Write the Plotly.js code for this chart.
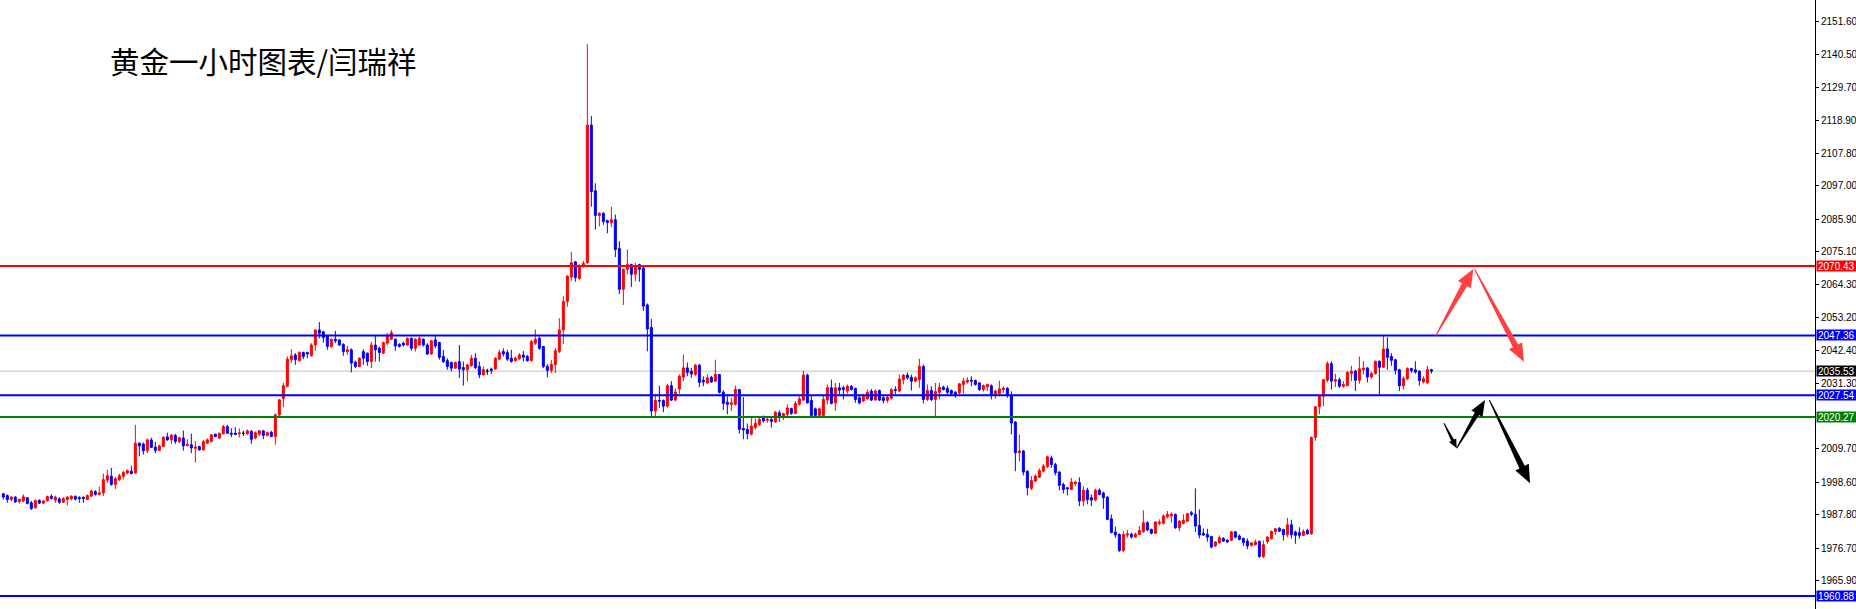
<!DOCTYPE html>
<html>
<head>
<meta charset="utf-8">
<script src="https://cdn.plot.ly/plotly-3.0.1.min.js"></script>
<style>
html,body{margin:0;padding:0;background:#fff;}
#chart{width:1856px;height:609px;}
</style>
</head>
<body>
<div id="chart"></div>
<script>
// ---- candle data (1 hour, XAUUSD) ----
const openP = [
1994.8,1994.2,1992.9,1993.7,1992.2,1992.4,1993.5,1991.8,1990.2,1992.6,
1991.7,1992.5,1994.0,1992.7,1993.1,1992.0,1992.9,1993.1,1993.9,1993.6,
1993.6,1992.9,1994.0,1995.5,1994.6,1995.1,1999.3,2000.6,1997.9,1999.5,
2000.6,2001.7,2002.3,2001.7,2011.6,2011.3,2009.1,2012.7,2010.3,2009.2,
2010.5,2013.7,2012.7,2014.2,2012.1,2013.3,2010.8,2011.1,2009.9,2010.5,
2009.4,2011.6,2012.2,2014.6,2013.3,2014.7,2017.1,2014.9,2014.9,2014.7,
2014.9,2014.7,2015.5,2013.3,2014.6,2015.7,2014.2,2015.2,2013.8,2021.0,
2026.4,2030.5,2039.3,2040.9,2039.0,2041.7,2041.7,2040.6,2044.2,2049.2,
2048.6,2047.2,2043.7,2046.1,2045.9,2044.4,2042.0,2042.6,2038.5,2037.1,
2042.0,2041.5,2038.7,2044.2,2043.1,2041.5,2044.8,2046.1,2046.1,2044.4,
2044.8,2044.2,2046.4,2043.1,2044.2,2046.1,2044.2,2041.2,2045.9,2045.0,
2040.4,2039.0,2038.4,2036.5,2038.7,2036.7,2036.0,2037.3,2039.8,2037.1,
2034.3,2035.5,2036.2,2036.2,2039.5,2042.0,2041.7,2039.8,2039.0,2039.6,
2040.9,2040.4,2039.0,2044.8,2046.4,2043.7,2037.1,2035.8,2037.7,2042.1,
2049.2,2058.6,2066.8,2071.8,2066.3,2070.4,2071.5,2117.2,2095.4,2087.2,
2087.9,2085.5,2084.8,2085.8,2076.2,2062.7,2069.3,2070.9,2067.7,2070.9,
2069.8,2057.5,2050.0,2022.3,2025.8,2025.8,2023.9,2030.7,2025.9,2029.6,
2033.5,2036.6,2035.5,2034.4,2037.5,2032.5,2031.6,2033.5,2032.2,2034.4,
2028.5,2025.2,2024.5,2024.5,2029.4,2016.5,2016.2,2014.6,2016.8,2017.8,
2020.1,2019.2,2019.5,2018.6,2021.7,2020.1,2021.2,2023.1,2021.5,2024.5,
2025.9,2034.2,2025.8,2023.0,2020.8,2020.8,2025.9,2030.0,2025.0,2030.0,
2030.0,2028.9,2030.5,2029.8,2026.7,2025.6,2026.3,2028.9,2025.9,2029.1,
2026.7,2025.8,2026.5,2029.4,2028.9,2032.7,2034.2,2033.5,2032.2,2032.7,
2037.1,2026.1,2029.1,2026.1,2028.5,2030.2,2029.8,2029.1,2028.5,2028.3,
2031.1,2031.9,2032.5,2032.4,2031.6,2029.4,2030.3,2030.7,2027.8,2028.1,
2029.4,2029.8,2027.4,2018.6,2008.4,2009.0,2002.3,1996.6,1999.0,2000.3,
2002.3,2003.8,2006.7,2004.5,2002.0,1997.9,1996.8,1996.2,1998.2,1998.5,
1992.4,1996.0,1993.5,1992.7,1996.0,1995.1,1993.7,1986.5,1982.1,1981.3,
1976.0,1981.1,1981.4,1980.4,1981.3,1982.2,1985.2,1983.0,1981.7,1985.0,
1985.0,1987.2,1987.4,1988.0,1983.5,1985.0,1985.7,1988.5,1988.0,1984.3,
1981.7,1981.3,1980.6,1977.5,1978.6,1980.0,1979.4,1979.4,1982.2,1980.8,
1980.0,1979.1,1977.7,1977.9,1979.0,1974.0,1979.0,1979.9,1982.3,1983.4,
1982.9,1981.2,1984.5,1982.1,1981.9,1981.0,1982.6,1981.5,2013.5,2023.7,
2027.2,2032.5,2038.0,2032.2,2032.7,2030.5,2030.7,2034.7,2035.5,2032.5,
2036.0,2036.6,2033.6,2034.7,2038.8,2036.8,2042.9,2040.4,2039.3,2036.0,
2030.7,2033.0,2036.4,2036.0,2035.5,2031.9,2031.6,2036.0
];
const highP = [
1995.1,1994.6,1994.0,1994.0,1993.3,1994.6,1993.7,1992.4,1992.9,1993.0,
1992.7,1994.2,1994.6,1994.2,1993.7,1993.7,1994.0,1994.3,1994.3,1994.0,
1994.0,1994.6,1996.2,1996.0,1997.1,2001.5,2002.8,2003.4,2000.4,2001.5,
2002.5,2002.8,2004.1,2017.7,2011.9,2011.8,2013.2,2013.4,2012.0,2011.1,
2013.8,2015.1,2014.6,2014.7,2013.8,2015.8,2012.9,2014.8,2012.3,2010.7,
2012.7,2013.2,2014.6,2014.7,2015.1,2017.7,2017.7,2016.6,2016.9,2016.5,
2015.7,2016.2,2016.0,2015.5,2016.0,2016.0,2015.4,2015.7,2021.5,2026.3,
2031.6,2040.4,2042.8,2041.5,2042.0,2042.0,2042.0,2044.8,2049.4,2051.8,
2048.9,2047.5,2046.4,2048.9,2046.1,2044.8,2043.9,2043.1,2039.0,2040.1,
2042.8,2041.7,2045.3,2047.2,2043.7,2045.3,2048.1,2049.2,2046.4,2044.8,
2045.3,2046.7,2046.7,2046.4,2047.0,2046.4,2044.8,2045.9,2047.2,2045.3,
2042.6,2039.8,2038.7,2038.7,2044.2,2038.7,2038.0,2040.9,2041.5,2038.7,
2037.1,2036.3,2036.7,2040.1,2042.6,2043.1,2042.6,2042.6,2040.4,2041.5,
2042.2,2040.9,2045.9,2049.4,2047.0,2043.9,2037.9,2039.3,2043.2,2053.1,
2060.4,2067.4,2075.1,2072.1,2070.9,2072.1,2144.1,2120.2,2097.9,2088.3,
2088.3,2085.8,2090.1,2087.5,2078.7,2069.6,2075.9,2071.2,2071.5,2071.2,
2070.1,2058.0,2052.8,2028.0,2030.7,2026.1,2031.3,2032.2,2029.7,2034.4,
2041.0,2038.4,2036.6,2037.9,2037.9,2033.8,2034.4,2034.0,2039.3,2034.6,
2029.2,2027.2,2026.7,2030.7,2029.6,2026.9,2018.1,2020.1,2019.8,2020.1,
2020.8,2020.1,2020.6,2022.3,2022.5,2021.7,2024.5,2023.4,2025.6,2027.2,
2035.7,2034.7,2027.2,2023.4,2023.4,2027.4,2031.1,2032.7,2031.6,2031.6,
2030.7,2031.1,2030.9,2030.0,2027.2,2028.0,2029.4,2029.6,2029.4,2029.4,
2027.2,2027.4,2029.8,2030.5,2034.4,2034.6,2035.1,2034.4,2033.8,2039.6,
2037.7,2031.1,2030.5,2031.6,2031.6,2030.7,2030.7,2029.4,2028.9,2031.6,
2033.3,2033.5,2033.8,2032.7,2031.9,2031.1,2031.4,2031.1,2029.4,2032.4,
2030.5,2030.2,2028.8,2018.9,2014.5,2009.3,2002.6,2000.7,2001.2,2003.2,
2004.7,2007.5,2007.5,2005.1,2002.3,1998.5,1997.1,2000.1,1999.2,2000.3,
1997.3,1996.8,1994.6,1996.5,1996.6,1995.5,1994.0,1987.9,1983.9,1981.7,
1982.4,1982.8,1981.9,1981.9,1984.1,1989.3,1985.7,1983.2,1985.7,1986.3,
1988.0,1989.1,1988.7,1988.2,1986.1,1988.0,1988.5,1989.1,1996.6,1989.6,
1983.3,1983.2,1980.8,1979.1,1981.0,1980.4,1979.7,1982.4,1982.4,1981.3,
1980.2,1980.0,1978.8,1979.6,1979.3,1979.3,1980.8,1982.6,1983.4,1983.7,
1983.2,1986.8,1986.2,1982.6,1983.7,1983.0,1983.2,2013.8,2023.9,2027.5,
2032.9,2038.8,2038.8,2034.7,2033.3,2032.2,2035.5,2037.3,2036.0,2040.4,
2038.8,2036.8,2035.3,2039.0,2039.1,2047.4,2046.7,2041.5,2039.6,2036.3,
2033.8,2036.8,2036.6,2038.8,2035.8,2033.8,2037.3,2036.3
];
const lowP = [
1992.9,1991.8,1992.4,1991.8,1991.6,1992.0,1991.3,1989.4,1989.9,1991.4,
1991.4,1992.2,1992.9,1991.8,1991.5,1991.8,1990.9,1992.6,1992.6,1991.8,
1991.8,1992.7,1993.8,1994.2,1994.3,1994.0,1998.4,1997.5,1996.4,1999.0,
1999.5,2001.2,2001.3,2001.5,2007.2,2007.8,2008.3,2010.0,2008.3,2009.1,
2010.3,2012.4,2011.3,2011.4,2011.6,2009.1,2010.5,2008.3,2005.2,2009.1,
2009.1,2011.4,2011.8,2013.6,2012.9,2014.5,2014.7,2013.6,2014.3,2013.5,
2014.0,2014.4,2011.4,2012.9,2014.0,2012.9,2013.8,2013.6,2011.1,2020.5,
2023.6,2030.2,2038.2,2037.6,2038.8,2039.5,2039.8,2040.4,2042.3,2046.4,
2045.0,2042.6,2043.1,2044.8,2043.9,2040.6,2040.9,2035.1,2036.5,2036.8,
2037.6,2037.3,2036.5,2038.7,2038.7,2041.2,2044.2,2045.9,2042.3,2043.4,
2043.7,2044.0,2042.3,2042.0,2044.0,2043.7,2040.9,2041.0,2043.1,2039.3,
2038.2,2036.0,2035.4,2036.3,2033.2,2030.7,2032.1,2037.1,2036.2,2033.2,
2034.0,2034.3,2034.6,2036.0,2039.3,2040.4,2038.9,2038.4,2038.7,2039.3,
2038.7,2038.7,2038.7,2044.2,2042.6,2036.5,2033.5,2034.9,2034.9,2041.5,
2044.5,2056.9,2065.5,2065.2,2065.9,2069.9,2071.2,2090.1,2082.5,2083.6,
2084.1,2081.3,2083.3,2073.4,2061.1,2057.5,2067.7,2063.5,2065.4,2065.2,
2055.5,2042.1,2020.1,2020.4,2023.4,2021.9,2023.4,2025.6,2025.6,2028.0,
2032.2,2033.8,2033.3,2034.0,2030.2,2030.5,2031.4,2031.6,2031.9,2028.1,
2022.6,2021.2,2022.3,2024.1,2014.8,2012.9,2012.9,2014.2,2016.2,2017.3,
2018.4,2018.4,2016.8,2018.4,2018.7,2019.3,2020.6,2021.0,2021.2,2024.1,
2025.6,2024.8,2020.4,2020.4,2020.4,2020.4,2024.5,2024.5,2022.3,2027.8,
2026.1,2028.0,2029.1,2025.0,2024.5,2025.2,2026.1,2025.6,2025.8,2025.6,
2024.8,2025.0,2026.1,2027.8,2028.5,2031.1,2032.7,2029.1,2031.8,2030.0,
2024.8,2025.6,2025.6,2020.4,2026.1,2029.1,2027.8,2027.2,2026.7,2027.2,
2028.0,2031.4,2030.5,2030.7,2028.9,2028.7,2028.9,2026.1,2026.3,2027.2,
2028.3,2026.7,2014.5,2002.3,2005.6,2000.9,1994.3,1996.0,1998.7,2000.1,
2002.0,2003.4,2003.4,2000.9,1996.0,1994.9,1994.3,1996.0,1997.3,1990.7,
1990.7,1991.3,1990.7,1992.4,1994.3,1989.8,1986.1,1981.7,1980.2,1975.5,
1975.5,1980.2,1979.9,1980.2,1981.1,1981.9,1982.4,1981.3,1981.5,1984.3,
1984.6,1986.6,1985.2,1983.2,1982.4,1984.6,1985.4,1987.4,1982.1,1980.0,
1980.8,1978.9,1976.7,1977.1,1978.2,1978.8,1978.6,1979.1,1980.0,1979.3,
1977.5,1976.4,1977.3,1977.7,1973.5,1973.5,1978.2,1979.7,1981.2,1982.1,
1979.3,1980.4,1979.9,1978.2,1979.9,1980.8,1981.2,1981.2,2012.4,2021.2,
2023.9,2031.8,2029.4,2030.2,2030.0,2030.0,2030.5,2032.2,2028.9,2031.3,
2034.4,2031.8,2033.0,2034.4,2027.8,2036.6,2036.0,2037.3,2034.4,2028.9,
2029.4,2032.5,2034.9,2034.7,2030.7,2031.4,2031.4,2034.7
];
const closeP = [
1993.7,1992.9,1993.7,1992.1,1992.9,1993.8,1991.6,1989.9,1992.6,1991.7,
1992.4,1993.9,1993.2,1993.7,1992.0,1993.2,1993.7,1994.0,1993.0,1993.2,
1993.2,1994.2,1995.7,1994.6,1995.1,1999.5,2000.8,1997.9,1999.8,2000.8,
2001.9,2002.5,2001.5,2011.6,2010.7,2009.1,2012.7,2010.2,2009.2,2010.7,
2013.6,2012.7,2014.3,2012.2,2013.4,2010.7,2011.2,2010.0,2010.3,2009.4,
2012.1,2012.7,2014.4,2013.8,2014.9,2017.1,2014.9,2014.6,2014.5,2015.0,
2014.9,2015.7,2012.9,2015.1,2015.7,2014.2,2015.1,2013.8,2021.0,2026.0,
2030.7,2039.5,2040.6,2039.3,2041.8,2040.4,2041.2,2044.2,2049.2,2048.1,
2046.7,2043.7,2046.1,2045.6,2044.2,2042.0,2042.6,2038.2,2037.1,2039.8,
2039.8,2038.7,2044.2,2042.6,2041.7,2045.0,2047.5,2048.3,2043.9,2043.7,
2044.2,2046.4,2043.1,2046.1,2046.4,2044.2,2041.2,2045.6,2043.9,2040.1,
2038.7,2037.1,2036.5,2038.4,2036.2,2036.0,2037.6,2039.8,2036.7,2034.3,
2036.0,2035.5,2035.7,2039.8,2041.7,2041.2,2039.5,2038.7,2039.8,2040.9,
2040.1,2039.0,2045.3,2046.1,2043.1,2037.1,2035.8,2037.7,2042.3,2049.2,
2058.6,2067.0,2071.5,2066.6,2070.7,2071.3,2117.2,2095.1,2087.2,2087.9,
2085.2,2084.9,2085.8,2075.9,2062.7,2069.3,2070.9,2067.7,2070.4,2069.3,
2057.1,2049.5,2022.3,2025.8,2025.6,2023.9,2030.7,2025.9,2028.6,2033.8,
2036.6,2035.1,2034.6,2037.5,2031.8,2031.9,2033.3,2031.9,2034.4,2028.5,
2024.8,2024.5,2025.0,2029.4,2016.2,2016.0,2014.8,2017.3,2018.2,2019.5,
2019.0,2019.5,2018.8,2021.9,2020.4,2021.4,2023.3,2021.5,2024.8,2026.3,
2034.2,2025.0,2020.8,2020.8,2023.0,2026.1,2030.0,2024.8,2030.0,2029.2,
2029.4,2030.5,2029.4,2026.1,2025.0,2027.2,2028.5,2025.9,2028.9,2025.9,
2025.8,2026.9,2029.4,2029.1,2032.9,2034.2,2033.3,2032.2,2033.3,2037.1,
2026.1,2029.1,2026.1,2028.7,2030.2,2029.4,2028.5,2028.1,2027.5,2031.3,
2032.2,2032.5,2032.2,2031.1,2029.4,2030.7,2031.1,2027.8,2028.9,2029.6,
2029.8,2027.4,2018.3,2008.4,2009.0,2002.0,1996.8,1999.2,2000.7,2002.5,
2004.0,2007.1,2004.5,2001.8,1997.6,1996.2,1996.5,1998.7,1998.7,1992.4,
1996.0,1992.9,1992.7,1996.0,1994.6,1993.5,1986.3,1981.9,1981.1,1976.0,
1981.3,1981.5,1980.5,1981.4,1982.6,1985.2,1982.8,1981.7,1985.4,1985.4,
1987.4,1988.0,1988.0,1983.5,1985.7,1986.0,1988.2,1988.0,1984.1,1981.1,
1981.1,1980.4,1977.1,1978.8,1980.2,1979.1,1978.8,1982.2,1980.4,1979.7,
1978.6,1977.5,1978.5,1978.8,1974.0,1977.9,1980.4,1982.3,1983.2,1982.4,
1981.2,1984.5,1981.2,1981.0,1981.0,1982.3,1981.5,2013.5,2023.7,2027.2,
2032.7,2038.0,2032.2,2032.7,2030.5,2031.1,2035.1,2035.5,2032.5,2036.3,
2036.5,2033.6,2034.7,2038.8,2036.8,2042.9,2040.1,2039.1,2035.8,2030.7,
2033.1,2036.4,2035.7,2035.2,2032.4,2033.0,2036.0,2035.5
];

// ---- horizontal levels and price-scale labels ----
const levelPrices = [2070.43, 2047.36, 2027.54, 2020.27, 1960.88];
const levelColors = ['#ff0000', '#0000ff', '#0000ff', '#008000', '#0000ff'];
const bidPrice = 2035.53;
const tickVals = [2151.60, 2140.50, 2129.70, 2118.90, 2107.80, 2097.00, 2085.90, 2075.10,
                  2064.30, 2053.20, 2042.40, 2031.30, 2009.70, 1998.60, 1987.80, 1976.70, 1965.90];
const titleText = '黄金一小时图表/闫瑞祥';

// ---- geometry ----
const W = 1856, H = 609, MR = 41;
const PW = W - MR, PH = H;
const yMin = 1956.55, yMax = 2158.74;
const xMin = -0.83, xMax = 452.9;

const idx = openP.map((_, i) => i);
const normal = idx.filter(i => openP[i] !== closeP[i]);
const doji = idx.filter(i => openP[i] === closeP[i]);
const pick = (arr, ids) => ids.map(i => arr[i]);

const traces = [
  {
    type: 'candlestick',
    x: normal, open: pick(openP, normal), high: pick(highP, normal),
    low: pick(lowP, normal), close: pick(closeP, normal),
    increasing: {line: {color: '#ff0000', width: 1}, fillcolor: '#ff0000'},
    decreasing: {line: {color: '#0000ff', width: 1}, fillcolor: '#0000ff'},
    whiskerwidth: 0, hoverinfo: 'skip', showlegend: false
  },
  {
    type: 'candlestick',
    x: doji, open: pick(openP, doji), high: pick(highP, doji),
    low: pick(lowP, doji), close: pick(closeP, doji),
    increasing: {line: {color: '#000000', width: 1}, fillcolor: '#000000'},
    decreasing: {line: {color: '#000000', width: 1}, fillcolor: '#000000'},
    whiskerwidth: 0, hoverinfo: 'skip', showlegend: false
  }
];

const shapes = [];
// bid line (under candles)
shapes.push({type: 'line', xref: 'paper', x0: 0, x1: 1, yref: 'y', y0: bidPrice, y1: bidPrice,
             line: {color: '#c0c0c0', width: 1}, layer: 'below'});
levelPrices.forEach((p, k) => {
  shapes.push({type: 'line', xref: 'paper', x0: 0, x1: 1, yref: 'y', y0: p, y1: p,
               line: {color: levelColors[k], width: 2}, layer: 'above'});
});

// tapered arrows drawn in pixel space of the plot area, converted to paper coords
function arrowPath(x0, y0, x1, y1, w0, w1, hl, hw) {
  const dx = x1 - x0, dy = y1 - y0, L = Math.hypot(dx, dy);
  const ux = dx / L, uy = dy / L, nx = -uy, ny = ux;
  const bx = x1 - ux * hl, by = y1 - uy * hl;
  const pts = [
    [x0 + nx * w0 / 2, y0 + ny * w0 / 2],
    [bx + nx * w1 / 2, by + ny * w1 / 2],
    [bx + nx * hw / 2, by + ny * hw / 2],
    [x1, y1],
    [bx - nx * hw / 2, by - ny * hw / 2],
    [bx - nx * w1 / 2, by - ny * w1 / 2],
    [x0 - nx * w0 / 2, y0 - ny * w0 / 2]
  ];
  return pts.map((p, i) => (i ? 'L' : 'M') + (p[0] / PW).toFixed(5) + ',' + (1 - p[1] / PH).toFixed(5)).join(' ') + ' Z';
}
const arrows = [
  {p: [1435.7, 335.7, 1473.3, 269, 1, 6, 18, 15], c: '#ff4040'},
  {p: [1474.5, 269, 1524, 361.7, 1, 6, 18, 15], c: '#ff4040'},
  {p: [1444, 423.3, 1456.7, 448.3, 1, 3, 9, 8], c: '#000000'},
  {p: [1456.7, 448.3, 1485, 400, 1, 5, 16, 13], c: '#000000'},
  {p: [1489.3, 400, 1530, 483.3, 1, 6, 18, 15], c: '#000000'}
];
arrows.forEach(a => {
  shapes.push({type: 'path', xref: 'paper', yref: 'paper', path: arrowPath(...a.p),
               fillcolor: a.c, line: {width: 0}, layer: 'above'});
});

const annotations = [];
annotations.push({text: titleText, xref: 'paper', yref: 'paper', x: 108 / PW, y: 1 - 59.5 / PH,
                  xanchor: 'left', yanchor: 'middle', showarrow: false,
                  font: {family: 'Noto Sans CJK SC', size: 29.5, color: '#000'}});
const labelPrices = levelPrices.concat([bidPrice]);
const labelColors = levelColors.concat(['#000000']);
labelPrices.forEach((p, k) => {
  annotations.push({text: p.toFixed(2), xref: 'paper', yref: 'y', x: 1, y: p,
                    xanchor: 'left', yanchor: 'middle', xshift: 1, showarrow: false,
                    bgcolor: labelColors[k], borderpad: 1, width: 38, height: 8, align: 'left',
                    font: {family: 'Liberation Sans', size: 10, color: '#ffffff'}});
});

const layout = {
  width: W, height: H,
  margin: {l: 0, r: MR, t: 0, b: 0, pad: 0},
  paper_bgcolor: '#ffffff', plot_bgcolor: '#ffffff',
  showlegend: false,
  boxgap: 0.5, boxgroupgap: 0,
  xaxis: {range: [xMin, xMax], visible: false, showgrid: false, zeroline: false,
          rangeslider: {visible: false}, fixedrange: true},
  yaxis: {range: [yMin, yMax], side: 'right', showgrid: false, zeroline: false,
          showline: true, linecolor: '#000', linewidth: 1, mirror: false,
          ticks: 'outside', ticklen: 3, tickcolor: '#000', tickwidth: 1,
          tickvals: tickVals, ticktext: tickVals.map(v => v.toFixed(2)),
          tickfont: {family: 'Liberation Sans', size: 10, color: '#000'},
          automargin: false, fixedrange: true},
  shapes: shapes,
  annotations: annotations
};

Plotly.newPlot('chart', traces, layout, {staticPlot: true, displayModeBar: false});
</script>
</body>
</html>
